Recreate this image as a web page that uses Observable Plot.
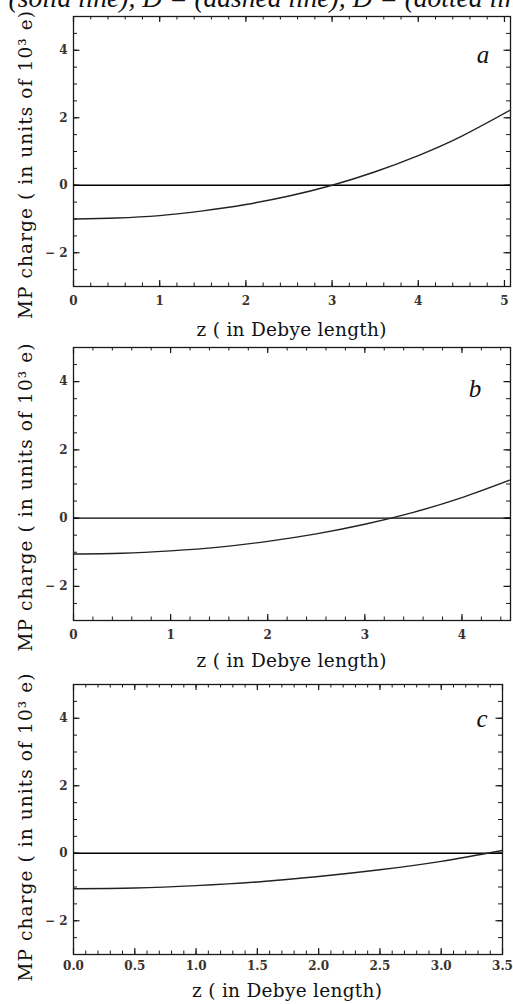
<!DOCTYPE html>
<html><head><meta charset="utf-8">
<script src="https://cdn.jsdelivr.net/npm/d3@7"></script>
<script src="https://cdn.jsdelivr.net/npm/@observablehq/plot@0.6"></script>
<style>
html,body{margin:0;padding:0;background:#fff;width:513px;height:1004px;overflow:hidden;}
#wrap{position:relative;width:513px;height:1004px;}
#wrap svg{position:absolute;left:0;}
</style></head><body><div id="wrap"></div>
<script>
// ---- text ----
const captionText = "r (solid line), D = (dashed line), D = (dotted line)";
const xTitle = "z ( in Debye length)";
const yTitle = "MP charge ( in units of 10\u00B3 e)";
const panelLetters = ["a", "b", "c"];

// ---- panel a ----
const zA = [0, 0.5, 1, 1.5, 2, 2.5, 3, 3.5, 4, 4.5, 5.07];
const qA = [-1.00, -0.97, -0.90, -0.76, -0.57, -0.32, 0.00, 0.40, 0.88, 1.45, 2.23];
const xTicksA = [0, 1, 2, 3, 4, 5];
// ---- panel b ----
const zB = [0, 0.5, 1, 1.5, 2, 2.5, 3, 3.5, 4, 4.5];
const qB = [-1.05, -1.03, -0.96, -0.85, -0.68, -0.46, -0.18, 0.17, 0.60, 1.12];
const xTicksB = [0, 1, 2, 3, 4];
// ---- panel c ----
const zC = [0, 0.5, 1, 1.5, 2, 2.5, 3, 3.5];
const qC = [-1.05, -1.03, -0.96, -0.85, -0.69, -0.49, -0.24, 0.08];
const xTicksC = [0, 0.5, 1, 1.5, 2, 2.5, 3, 3.5];
// ---- y axis ----
const yTicks = [-2, 0, 2, 4];
const yDomain = [-3, 5];

const FONT = "'Liberation Serif', 'DejaVu Serif', serif";
const WIDE = "'DejaVu Serif', serif";
const W = 513;

function makePanel(cfg) {
  const data = cfg.z.map((z, i) => ({z, q: cfg.q[i]}));
  const mLeft = 73;
  const fw = W - mLeft - cfg.mRight;
  const fh = cfg.height - cfg.mTop - cfg.mBottom;
  const xMinor = d3.range(cfg.xDomain[0], cfg.xDomain[1] + 1e-9, cfg.xMinorStep).map(v => +v.toFixed(3));
  const yMinor = d3.range(-3, 5 + 1e-9, 0.5);
  const ink = "#1a1a1a";
  const svg = Plot.plot({
    width: W, height: cfg.height,
    marginLeft: mLeft, marginRight: cfg.mRight, marginTop: cfg.mTop, marginBottom: cfg.mBottom,
    style: {fontFamily: WIDE, background: "transparent"},
    x: {domain: cfg.xDomain, label: null},
    y: {domain: yDomain, label: null},
    marks: [
      Plot.tickX(xMinor, {x: d => d, insetTop: fh - 3.5, stroke: ink, strokeWidth: 1}),
      Plot.tickX(xMinor, {x: d => d, insetBottom: fh - 3.5, stroke: ink, strokeWidth: 1}),
      Plot.tickX(cfg.xTicks, {x: d => d, insetTop: fh - 6, stroke: ink, strokeWidth: 1.2}),
      Plot.tickX(cfg.xTicks, {x: d => d, insetBottom: fh - 6, stroke: ink, strokeWidth: 1.2}),
      Plot.tickY(yMinor, {y: d => d, insetRight: fw - 4, stroke: ink, strokeWidth: 1}),
      Plot.tickY(yMinor, {y: d => d, insetLeft: fw - 4, stroke: ink, strokeWidth: 1}),
      Plot.tickY(yTicks, {y: d => d, insetRight: fw - 6.5, stroke: ink, strokeWidth: 1.2}),
      Plot.tickY(yTicks, {y: d => d, insetLeft: fw - 6.5, stroke: ink, strokeWidth: 1.2}),
      Plot.frame({stroke: ink, strokeWidth: 1.3}),
      Plot.ruleY([0], {stroke: "#000", strokeWidth: 1.3}),
      Plot.line(data, {x: "z", y: "q", curve: "natural", stroke: "#222", strokeWidth: 1.4}),
      Plot.axisX(cfg.xTicks, {anchor: "bottom", tickSize: 0, tickPadding: cfg.xPad, tickFormat: cfg.xFmt,
        fontSize: 12, fontWeight: "bold", fill: "#3a332c", fontFamily: WIDE, label: null}),
      Plot.axisY(yTicks, {anchor: "left", tickSize: 0, tickPadding: 6,
        tickFormat: d => d < 0 ? "\u2212 " + Math.abs(d) : String(d),
        fontSize: 12, fontWeight: "bold", fill: "#3a332c", fontFamily: WIDE, label: null})
    ]
  });
  svg.style.top = cfg.top + "px";
  const s = d3.select(svg);
  s.append("text").text(xTitle)
    .attr("x", cfg.xTitleX).attr("y", cfg.xTitleY)
    .attr("font-family", WIDE)
    .attr("text-anchor", "middle").attr("font-size", 18.5).attr("fill", "#111")
    .attr("textLength", 190).attr("lengthAdjust", "spacing");
  s.append("text").text(yTitle)
    .attr("transform", `translate(32,${cfg.yTitleY}) rotate(-90)`)
    .attr("font-family", WIDE)
    .attr("text-anchor", "middle").attr("font-size", 18.5).attr("fill", "#111")
    .attr("textLength", 308).attr("lengthAdjust", "spacing");
  s.append("text").text(cfg.letter)
    .attr("x", cfg.letterX).attr("y", cfg.letterY)
    .attr("font-family", FONT)
    .attr("text-anchor", "middle").attr("font-size", 25).attr("font-style", "italic").attr("fill", "#111");
  if (cfg.caption) {
    s.append("text").text(cfg.caption)
      .attr("x", -9).attr("y", 7)
      .attr("font-family", FONT)
      .attr("text-anchor", "start")
      .attr("font-size", 27.5).attr("font-style", "italic").attr("fill", "#111");
  }
  document.getElementById("wrap").appendChild(svg);
}

makePanel({z: zA, q: qA, xDomain: [0, 5.07], xTicks: xTicksA, xMinorStep: 0.2, xFmt: d => String(d),
  top: 0, height: 340, mTop: 16, mBottom: 54, mRight: 3, xPad: 10,
  xTitleX: 291.5, xTitleY: 336, yTitleY: 165, letter: panelLetters[0], letterX: 483, letterY: 62.5,
  caption: captionText});
makePanel({z: zB, q: qB, xDomain: [0, 4.5], xTicks: xTicksB, xMinorStep: 0.2, xFmt: d => String(d),
  top: 340, height: 335, mTop: 7, mBottom: 55, mRight: 3, xPad: 9.5,
  xTitleX: 291.5, xTitleY: 327, yTitleY: 157.5, letter: panelLetters[1], letterX: 475, letterY: 57});
makePanel({z: zC, q: qC, xDomain: [0, 3.5], xTicks: xTicksC, xMinorStep: 0.1, xFmt: d => d.toFixed(1),
  top: 675, height: 329, mTop: 9, mBottom: 50, mRight: 11, xPad: 7,
  xTitleX: 287, xTitleY: 322, yTitleY: 152.5, letter: panelLetters[2], letterX: 482, letterY: 52});
</script></body></html>
